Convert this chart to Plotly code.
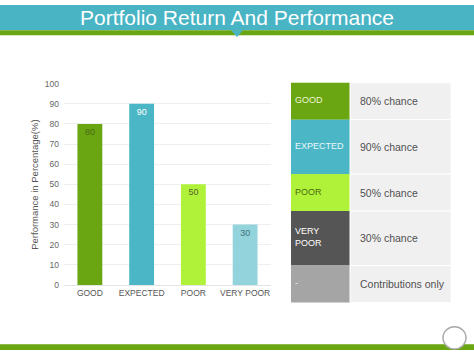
import plotly.graph_objects as go

W, H = 474, 355

# ---- data ----
categories = ["GOOD", "EXPECTED", "POOR", "VERY POOR"]
values = [80, 90, 50, 30]
bar_colors = ["#6aa512", "#4bb6c6", "#b0f23a", "#93d4dc"]
label_colors = ["#4a6a14", "#ffffff", "#55662a", "#3f7078"]

table_labels = ["GOOD", "EXPECTED", "POOR", "VERY<br>POOR", "-"]
table_texts = ["80% chance", "90% chance", "50% chance", "30% chance", "Contributions only"]
table_colors = ["#6aa512", "#4bb6c6", "#b0f23a", "#555555", "#a5a5a5"]
table_label_colors = ["#f0f5d8", "#e8f8fa", "#4a6a14", "#ffffff", "#f0f0f0"]
row_heights = [38, 56, 38, 56, 38]

y_ticks = list(range(0, 101, 10))

def px(x):
    return x / W

def py(y):
    return 1 - y / H

fig = go.Figure()
fig.add_trace(go.Bar(
    x=categories, y=values,
    marker=dict(color=bar_colors, line=dict(width=0)),
    text=[str(v) for v in values],
    textposition="inside", insidetextanchor="end",
    textfont=dict(size=9, color=label_colors, family="Liberation Sans"),
    width=0.48,
    hoverinfo="skip",
))

shapes = []
annotations = []

# header
shapes.append(dict(type="rect", xref="paper", yref="paper", x0=0, x1=1, y0=py(26), y1=1,
                   fillcolor="#48b4c4", line=dict(width=0), layer="below"))
shapes.append(dict(type="rect", xref="paper", yref="paper", x0=0, x1=1, y0=py(31), y1=py(26),
                   fillcolor="#6aa512", line=dict(width=0), layer="below"))
shapes.append(dict(type="path", xref="paper", yref="paper",
                   path=f"M {px(231)} {py(26)} L {px(243)} {py(26)} L {px(237)} {py(33)} Z",
                   fillcolor="#48b4c4", line=dict(width=0)))
# footer
shapes.append(dict(type="rect", xref="paper", yref="paper", x0=0, x1=1, y0=0, y1=py(349),
                   fillcolor="#6aa512", line=dict(width=0)))
shapes.append(dict(type="circle", xref="paper", yref="paper",
                   x0=px(443), x1=px(466), y0=py(354), y1=py(331),
                   fillcolor="#ffffff", line=dict(color="#aaaaaa", width=1.5)))

annotations.append(dict(text="Portfolio Return And Performance", xref="paper", yref="paper",
                        x=px(237), y=py(13), showarrow=False, xanchor="center", yanchor="middle",
                        font=dict(size=21, color="#ffffff", family="Liberation Sans")))
annotations.append(dict(text="Performance in Percentage(%)", xref="paper", yref="paper",
                        x=px(35), y=py(185), showarrow=False, textangle=-90,
                        xanchor="center", yanchor="middle",
                        font=dict(size=9.5, color="#555555", family="Liberation Sans")))

# table
top = 80
for lab, txt, col, lcol, h in zip(table_labels, table_texts, table_colors, table_label_colors, row_heights):
    y0, y1 = top, top + h
    shapes.append(dict(type="rect", xref="paper", yref="paper", x0=px(291), x1=px(350),
                       y0=py(y1), y1=py(y0), fillcolor=col, line=dict(width=0)))
    shapes.append(dict(type="rect", xref="paper", yref="paper", x0=px(350), x1=px(451),
                       y0=py(y1), y1=py(y0), fillcolor="#f0f0f0",
                       line=dict(color="#ffffff", width=1)))
    annotations.append(dict(text=lab, xref="paper", yref="paper", x=px(293), y=py((y0 + y1) / 2 - 1),
                            xanchor="left", yanchor="middle", showarrow=False, align="left",
                            font=dict(size=9, color=lcol, family="Liberation Sans")))
    annotations.append(dict(text=txt, xref="paper", yref="paper", x=px(358), y=py((y0 + y1) / 2),
                            xanchor="left", yanchor="middle", showarrow=False,
                            font=dict(size=10.5, color="#505050", family="Liberation Sans")))
    top = y1

fig.update_layout(
    width=W, height=H,
    margin=dict(l=0, r=0, t=0, b=0),
    paper_bgcolor="#ffffff", plot_bgcolor="#ffffff",
    showlegend=False,
    shapes=shapes, annotations=annotations,
    xaxis=dict(domain=[px(64), px(271)], showgrid=False, showline=True, linecolor="#e4e4e4",
               tickfont=dict(size=8.5, color="#555555", family="Liberation Sans"), ticks=""),
    yaxis=dict(domain=[py(288), py(81)], range=[0, 100], tickvals=y_ticks,
               showgrid=True, gridcolor="#efefef", zeroline=False, showline=False,
               tickfont=dict(size=8.5, color="#666666", family="Liberation Sans"), ticks="",
               ticklen=0, ticklabelstandoff=4),
    bargap=0.5,
)

fig.write_html("out.html")
